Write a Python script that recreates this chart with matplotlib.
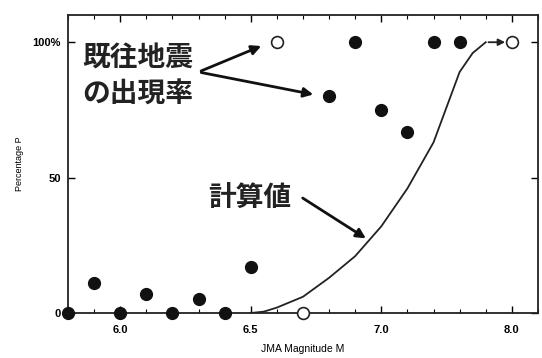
import numpy as np
import matplotlib
matplotlib.use('Agg')
import matplotlib.pyplot as plt
from matplotlib.ticker import MultipleLocator

plt.rcParams['font.family'] = ['Liberation Sans', 'DejaVu Sans']

# observed occurrence rates (filled circles)
obs_m = [5.8, 5.9, 6.0, 6.1, 6.2, 6.3, 6.4, 6.5, 6.8, 6.9, 7.0, 7.1, 7.2, 7.3]
obs_p = [0, 11, 0, 7, 0, 5, 0, 17, 80, 100, 75, 67, 100, 100]

# open circles
open_m = [6.6, 6.7, 7.5]
open_p = [100, 0, 100]

# calculated curve
calc_m = [6.5, 6.55, 6.6, 6.7, 6.8, 6.9, 7.0, 7.1, 7.2, 7.3, 7.35, 7.4]
calc_p = [0, 0.5, 2, 6, 13, 21, 32, 46, 63, 89, 96, 100]

xtick_pos = [6.0, 6.5, 7.0, 7.5]
xtick_lab = ['6.0', '6.5', '7.0', '8.0']
ytick_pos = [0, 50, 100]
ytick_lab = ['0', '50', '100%']

fig = plt.figure(figsize=(5.42, 3.58), dpi=100)
ax = fig.add_axes([0.1255, 0.1257, 0.867, 0.832])

ax.plot(calc_m, calc_p, color='#222222', lw=1.3, zorder=2)
ax.annotate('', xy=(open_m[2] - 0.015, open_p[2]), xytext=(calc_m[-1], calc_p[-1]),
            arrowprops=dict(arrowstyle='-|>', color='#222222', lw=1.3, mutation_scale=10))

ax.plot(obs_m, obs_p, 'o', color='#111111', ms=8.5, clip_on=False, zorder=4)
ax.plot(open_m, open_p, 'o', mfc='white', mec='#222222', mew=1.2, ms=8.5,
        clip_on=False, zorder=4)

ax.set_xlim(5.8, 7.6)
ax.set_ylim(0, 110)
ax.set_xticks(xtick_pos)
ax.set_xticklabels(xtick_lab)
ax.xaxis.set_minor_locator(MultipleLocator(0.1))
ax.set_yticks(ytick_pos)
ax.set_yticklabels(ytick_lab)
ax.tick_params(direction='in', top=True, right=True, length=5, width=1,
               labelsize=8, pad=5)
ax.tick_params(axis='x', pad=9)
ax.tick_params(which='minor', direction='in', top=True, length=3, width=0.8)
for lab in ax.get_xticklabels() + ax.get_yticklabels():
    lab.set_fontweight('bold')
for sp in ax.spines.values():
    sp.set_linewidth(1.3)
    sp.set_color('#222222')

ax.set_xlabel('JMA Magnitude M', fontsize=7.5, labelpad=6)
ax.set_ylabel('Percentage P', fontsize=6.5, labelpad=6)

jp = ['Noto Sans CJK JP', 'DejaVu Sans']
ax.text(5.855, 99, '既往地震\nの出現率', family=jp, fontsize=20, fontweight='bold',
        va='top', ha='left', linespacing=1.35, color='#222222')
ax.annotate('', xy=(6.55, 99), xytext=(6.3, 89),
            arrowprops=dict(arrowstyle='-|>', color='#111111', lw=2, mutation_scale=14))
ax.annotate('', xy=(6.75, 80.5), xytext=(6.3, 89),
            arrowprops=dict(arrowstyle='-|>', color='#111111', lw=2, mutation_scale=14))

ax.text(6.335, 42, '計算値', family=jp, fontsize=20, fontweight='bold',
        va='center', ha='left', color='#222222')
ax.annotate('', xy=(6.95, 27), xytext=(6.69, 43),
            arrowprops=dict(arrowstyle='-|>', color='#111111', lw=2, mutation_scale=14))

fig.savefig('out.png', dpi=100)
